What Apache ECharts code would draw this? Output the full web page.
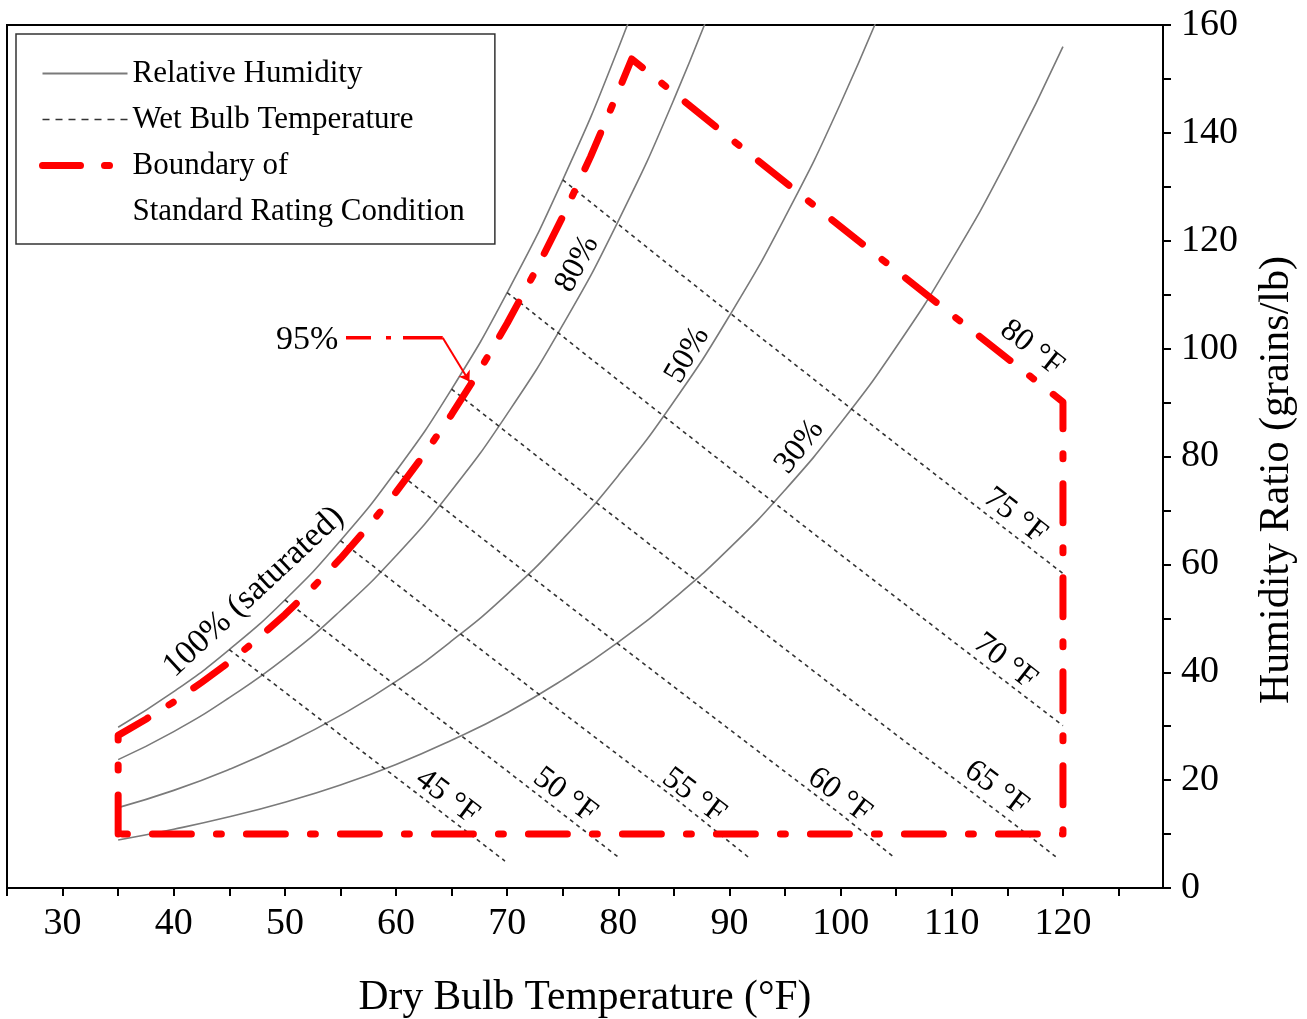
<!DOCTYPE html>
<html>
<head>
<meta charset="utf-8">
<script src="https://cdn.jsdelivr.net/npm/echarts@6/dist/echarts.min.js"></script>
<style>
html,body{margin:0;padding:0;background:#fff;}
#chart{width:1307px;height:1019px;}
</style>
</head>
<body>
<div id="chart"></div>
<script>
// ---------- data (dry bulb °F, humidity ratio grains/lb) ----------
const xTickValues = [25,30,35,40,45,50,55,60,65,70,75,80,85,90,95,100,105,110,115,120,125];
const xLabelValues = [30,40,50,60,70,80,90,100,110,120];
const yLabelValues = [0,20,40,60,80,100,120,140,160];

const rh100 = [[35,29.8],[40,36.4],[45,44.2],[50,53.4],[55,64.4],[60,77.3],[65,92.5],[70,110.4],[75,131.3],[80,155.7],[85,183.8]];
const rh80  = [[35,23.8],[40,29.0],[45,35.3],[50,42.6],[55,51.4],[60,61.6],[65,73.7],[70,87.9],[75,104.4],[80,123.7],[85,146.2],[90,172.2]];
const rh50  = [[35,14.9],[40,18.1],[45,22.0],[50,26.6],[55,32.0],[60,38.3],[65,45.8],[70,54.5],[75,64.7],[80,76.5],[85,90.2],[90,106.1],[95,124.4],[100,145.5],[105,169.8]];
const rh30  = [[35,8.9],[40,10.9],[45,13.2],[50,15.9],[55,19.1],[60,22.9],[65,27.4],[70,32.5],[75,38.6],[80,45.6],[85,53.7],[90,63.0],[95,73.8],[100,86.2],[105,100.3],[110,116.5],[115,135.0],[120,156.0]];

const wb45 = [[45,44.2],[55,28.4],[65,12.6],[69.8,5.0]];
const wb50 = [[50,53.4],[60,37.5],[70,21.7],[80.2,5.4]];
const wb55 = [[55,64.4],[65,48.4],[75,32.5],[85,16.8],[91.7,5.7]];
const wb60 = [[60,77.3],[70,61.2],[80,45.2],[90,29.4],[100,13.7],[104.8,5.7]];
const wb65 = [[65,92.5],[75,76.3],[85,60.2],[95,44.3],[105,28.4],[115,12.8],[119.6,5.4]];
const wb70 = [[70,110.4],[80,94.1],[90,77.9],[100,61.8],[110,45.9],[120,30.1]];
const wb75 = [[75,131.3],[85,114.8],[95,98.5],[105,82.3],[115,66.3],[120,58.3]];

const boundary = [[35,10],[35,28.3],[37.5,31.3],[40,34.5],[42.5,38.1],[45,41.9],[47.5,46.1],[50,50.7],[52.5,55.7],[55,61.1],[57.5,67.0],[60,73.4],[62.5,80.3],[65,87.8],[67.5,95.9],[70,104.7],[72.5,114.2],[75,124.5],[77.5,135.6],[80,147.7],[81.2,153.7],[90,139.1],[100,122.6],[110,106.3],[120,90.1],[120,10],[35,10]];

const leader95 = [[55.5,102.0],[64.2,102.0]];
const arrow95 = [[64.2,102.0],[66.6,93.9]];

const annoText = ['100% (saturated)','80%','50%','30%','95%','45 °F','50 °F','55 °F','60 °F','65 °F','70 °F','75 °F','80 °F'];
const annoX    = [47.2, 76.3, 86.2, 96.3, 52.0, 64.6, 75.2, 86.8, 99.9, 114.0, 114.8, 115.7, 117.2];
const annoY    = [54.9, 115.7, 98.8, 81.8, 101.6, 16.9, 17.2, 17.1, 17.2, 18.5, 42.0, 69.0, 100.1];
const annoRot  = [43, 62, 60, 52, 0, -37, -37, -37, -37, -37, -38, -38, -38];
const annoSize = [34, 32, 32, 32, 34, 32, 32, 32, 32, 32, 32, 32, 32];

// ---------- chart ----------
const FONT = "'Liberation Serif','Times New Roman',serif";
const RH_COLOR = '#7a7a7a';
const WB_COLOR = '#333333';
const RED = '#ff0000';

function rhSeries(data){
  return {type:'line', name:'Relative Humidity', data:data, smooth:true, symbol:'none', silent:true,
    lineStyle:{color:RH_COLOR, width:1.6}, z:2};
}
function wbSeries(data){
  return {type:'line', name:'Wet Bulb Temperature', data:data, smooth:false, symbol:'none', silent:true,
    lineStyle:{color:WB_COLOR, width:1.6, type:[4,4]}, z:3};
}

const annoData = annoText.map((t,i)=>({
  value:[annoX[i], annoY[i]],
  label:{formatter:t, rotate:annoRot[i], fontSize:annoSize[i]}
}));

const chart = echarts.init(document.getElementById('chart'), null, {renderer:'canvas'});
chart.setOption({
  animation:false,
  backgroundColor:'#fff',
  textStyle:{fontFamily:FONT, color:'#000'},
  grid:{left:7, right:144, top:25, bottom:131, show:true, borderColor:'#000', borderWidth:2,
        backgroundColor:'transparent', containLabel:false, outerBoundsMode:'none'},
  legend:{
    orient:'vertical', left:16, top:34, padding:[24,30,17,23],
    itemWidth:85, itemHeight:14, itemGap:15,
    borderColor:'#333', borderWidth:1.5, backgroundColor:'#fff',
    selectedMode:false,
    textStyle:{fontFamily:FONT, fontSize:31, color:'#000', lineHeight:30},
    itemStyle:{opacity:0},
    data:[
      {name:'Relative Humidity', lineStyle:{width:2, color:RH_COLOR, type:'solid'}},
      {name:'Wet Bulb Temperature', lineStyle:{width:1.6, color:WB_COLOR, type:[7,6]}},
      {name:'Boundary of', lineStyle:{width:7, color:RED, type:[38,24,5,40], cap:'round'}},
      {name:'Standard Rating Condition', icon:'none', lineStyle:{opacity:0}}
    ]
  },
  xAxis:{
    type:'value', min:25, max:129, interval:5,
    axisLine:{show:true, onZero:false, lineStyle:{color:'#000', width:2}},
    axisTick:{show:true, inside:false, length:8, lineStyle:{color:'#000', width:2}, customValues:xTickValues},
    axisLabel:{show:true, margin:17, fontSize:38, fontFamily:FONT, color:'#000', customValues:xLabelValues,
      formatter:function(v){ return (v % 10 === 0 && v <= 120 && v >= 30) ? String(v) : ''; }},
    splitLine:{show:false}, minorTick:{show:false},
    name:'Dry Bulb Temperature (°F)', nameLocation:'middle', nameGap:89,
    nameTextStyle:{fontSize:41.5, fontFamily:FONT, color:'#000'}
  },
  yAxis:{
    type:'value', position:'right', min:0, max:160, interval:10,
    axisLine:{show:true, onZero:false, lineStyle:{color:'#000', width:2}},
    axisTick:{show:true, inside:false, length:8, lineStyle:{color:'#000', width:2}},
    axisLabel:{show:true, margin:18, fontSize:38, fontFamily:FONT, color:'#000', customValues:yLabelValues,
      formatter:function(v){ return (v % 20 === 0) ? String(v) : ''; }},
    splitLine:{show:false},
    name:'Humidity Ratio (grains/lb)', nameLocation:'middle', nameGap:93,
    nameTextStyle:{fontSize:42, fontFamily:FONT, color:'#000', padding:[0,47,0,0]}
  },
  series:[
    rhSeries(rh100), rhSeries(rh80), rhSeries(rh50), rhSeries(rh30),
    wbSeries(wb45), wbSeries(wb50), wbSeries(wb55), wbSeries(wb60), wbSeries(wb65), wbSeries(wb70), wbSeries(wb75),
    {type:'line', name:'Boundary of', data:boundary, smooth:false, symbol:'none', silent:true, z:5,
      lineStyle:{color:RED, width:7, type:[39,25,5,25], cap:'round', join:'round'}},
    {type:'line', name:'Standard Rating Condition', data:[], symbol:'none', silent:true,
      lineStyle:{color:'#fff', width:0}},
    {type:'line', name:'95% leader', data:leader95, symbol:'none', silent:true, z:5,
      lineStyle:{color:RED, width:3.5, type:[25,15,5,12,40,10]}},
    {type:'lines', name:'95% arrow', coordinateSystem:'cartesian2d', silent:true, z:5,
      data:[{coords:arrow95}], symbol:['none','arrow'], symbolSize:[0,10],
      lineStyle:{color:RED, width:2, opacity:1, curveness:0}},
    {type:'scatter', name:'annotations', data:annoData, symbolSize:0.1, silent:true, z:6,
      itemStyle:{color:'rgba(0,0,0,0)', opacity:1},
      label:{show:true, position:'inside', fontFamily:FONT, color:'#000', opacity:1, textBorderWidth:0}}
  ]
});
</script>
</body>
</html>
